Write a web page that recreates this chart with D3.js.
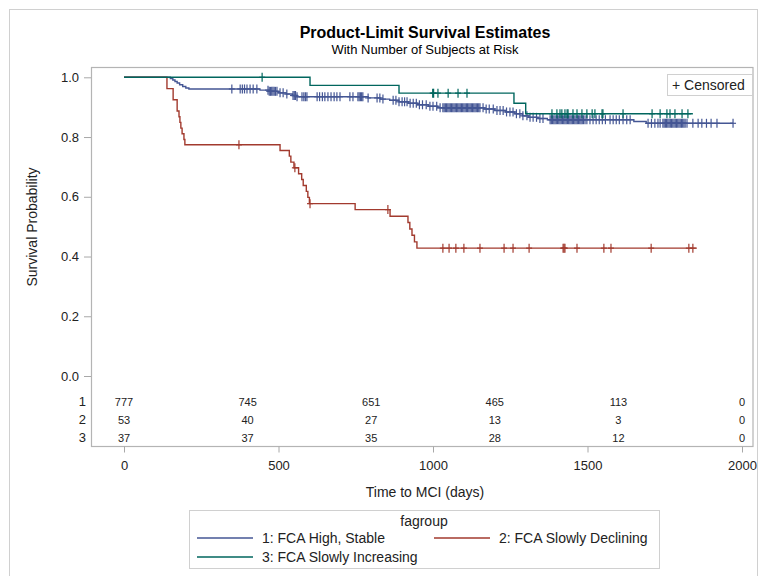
<!DOCTYPE html>
<html>
<head>
<meta charset="utf-8">
<script src="https://cdn.jsdelivr.net/npm/d3@7"></script>
<style>
  html, body { margin: 0; padding: 0; background: #fff; }
  svg text { font-family: "Liberation Sans", Arial, sans-serif; }
</style>
</head>
<body>
<svg id="chart" width="760" height="576"></svg>
<script>
// ---------------- DATA ----------------
const title = "Product-Limit Survival Estimates";
const subtitle = "With Number of Subjects at Risk";
const xLabel = "Time to MCI (days)";
const yLabel = "Survival Probability";
const xTicks = [0, 500, 1000, 1500, 2000];
const yTicks = [0, 0.2, 0.4, 0.6, 0.8, 1.0];
const groupIds = ["1", "2", "3"];
const groupNames = ["1: FCA High, Stable", "2: FCA Slowly Declining", "3: FCA Slowly Increasing"];
const groupColors = ["#445694", "#A23A2E", "#01665E"];

// step points [time, survival]
const g1Steps = [[0,1],[150,0.996],[158,0.991],[165,0.986],[172,0.981],[180,0.975],[190,0.969],[200,0.964],[210,0.961],
  [440,0.957],[470,0.953],[500,0.948],[525,0.944],[545,0.939],[560,0.935],[790,0.931],[830,0.927],[860,0.923],
  [890,0.918],[920,0.913],[950,0.908],[985,0.903],[1015,0.898],[1165,0.894],[1200,0.889],[1235,0.884],[1265,0.878],
  [1290,0.871],[1310,0.866],[1340,0.862],[1370,0.858],[1650,0.852],[1690,0.846]];
const g1End = 1971;
const g2Steps = [[0,1],[139,0.962],[159,0.925],[172,0.887],[178,0.868],[181,0.849],[184,0.830],[188,0.811],[194,0.792],
  [197,0.774],[505,0.755],[535,0.736],[540,0.716],[550,0.697],[565,0.677],[575,0.658],[580,0.638],[590,0.618],
  [595,0.598],[600,0.577],[748,0.557],[861,0.535],[919,0.514],[925,0.492],[932,0.471],[940,0.449],[948,0.428]];
const g2End = 1854;
const g3Steps = [[0,1],[602,0.973],[890,0.947],[1262,0.913],[1300,0.878]];
const g3End = 1841;

// censored times
const g1Censor = [349,376,383,390,398,408,418,430,466,470,474,478,482,486,490,495,505,515,527,547,551,555,560,
  576,582,587,592,625,633,642,650,660,670,680,689,699,731,741,757,761,765,769,773,790,819,828,838,
  871,880,890,900,908,916,926,936,946,956,966,978,990,1000,1012,1023,
  1032,1036,1040,1044,1048,1052,1056,1060,1064,1068,1072,1076,1080,1084,1088,1092,1096,1100,1104,1108,
  1112,1116,1120,1124,1128,1132,1136,1140,1144,1148,1152,
  1162,1172,1182,1195,1207,1217,1227,1238,1249,1259,1270,1281,1291,1304,1314,1324,1335,1346,1356,
  1379,1383,1387,1391,1395,1399,1403,1407,1411,1415,1419,1423,1427,1431,1435,1439,1443,1447,1451,1455,
  1459,1463,1467,1471,1475,1479,1483,1487,1492,
  1498,1508,1518,1528,1538,1548,1558,1573,1583,1593,1603,1615,1627,1638,
  1696,1707,1718,1728,1735,1744,1748,1752,1756,1760,1764,1768,1772,1776,1780,1784,1788,1792,1796,1800,
  1804,1808,1812,1816,1822,1841,1858,1870,1885,1900,1919,1971];
const g2Censor = [372,553,602,854,1032,1052,1074,1100,1152,1230,1259,1311,1421,1424,1427,1466,1553,1576,1706,1828,1841];
const g3Censor = [447,999,1002,1016,1049,1081,1110,1385,1401,1411,1417,1427,1434,1437,1453,1466,1482,1498,
  1515,1524,1547,1550,1615,1709,1735,1757,1767,1783,1806,1825];

// number at risk
const riskTimes = [0, 400, 800, 1200, 1600, 2000];
const atRisk1 = [777, 745, 651, 465, 113, 0];
const atRisk2 = [53, 40, 27, 13, 3, 0];
const atRisk3 = [37, 37, 35, 28, 12, 0];

// ---------------- DRAW ----------------
const svg = d3.select("#chart");
const x = d3.scaleLinear().domain([0, 2000]).range([124, 742]);
const y = d3.scaleLinear().domain([0, 1]).range([376, 77.3]);
const frame = {left: 91, top: 67.5, right: 753, bottom: 446.5};

// outer border
svg.append("rect").attr("x", 9.5).attr("y", 9.5).attr("width", 748).attr("height", 580)
  .attr("fill", "none").attr("stroke", "#d0d0d0").attr("stroke-width", 1);

// titles
svg.append("text").attr("x", 425).attr("y", 38).attr("text-anchor", "middle")
  .attr("font-size", 16).attr("font-weight", "bold").attr("fill", "#000").text(title);
svg.append("text").attr("x", 425).attr("y", 54).attr("text-anchor", "middle")
  .attr("font-size", 13).attr("fill", "#000").text(subtitle);

// frame
svg.append("rect").attr("x", frame.left + 0.5).attr("y", frame.top)
  .attr("width", frame.right - frame.left - 0.5).attr("height", frame.bottom - frame.top)
  .attr("fill", "none").attr("stroke", "#b4b4b4").attr("stroke-width", 1.2);

// y axis
const yAxis = svg.append("g").attr("transform", `translate(${frame.left},0)`)
  .call(d3.axisLeft(y).tickValues(yTicks).tickFormat(d3.format(".1f")).tickSize(7).tickPadding(5).tickSizeOuter(0));
yAxis.select(".domain").remove();
yAxis.selectAll("line").attr("stroke", "#a8a8a8");
yAxis.selectAll("text").attr("font-size", 13).attr("fill", "#222").attr("font-family", "Liberation Sans, Arial, sans-serif");

svg.append("text").attr("transform", "translate(37,227) rotate(-90)").attr("text-anchor", "middle")
  .attr("font-size", 14).attr("fill", "#222").text(yLabel);

// x axis
const xAxis = svg.append("g").attr("transform", `translate(0,${frame.bottom})`)
  .call(d3.axisBottom(x).tickValues(xTicks).tickFormat(d3.format("d")).tickSize(6).tickPadding(8).tickSizeOuter(0));
xAxis.select(".domain").remove();
xAxis.selectAll("line").attr("stroke", "#a8a8a8");
xAxis.selectAll("text").attr("font-size", 13).attr("fill", "#222").attr("font-family", "Liberation Sans, Arial, sans-serif");

svg.append("text").attr("x", 425).attr("y", 497).attr("text-anchor", "middle")
  .attr("font-size", 14).attr("fill", "#222").text(xLabel);

// curves
const groups = [
  {steps: g1Steps, end: g1End, censor: g1Censor, color: groupColors[0]},
  {steps: g2Steps, end: g2End, censor: g2Censor, color: groupColors[1]},
  {steps: g3Steps, end: g3End, censor: g3Censor, color: groupColors[2]}
];
const line = d3.line().x(d => x(d[0])).y(d => y(d[1])).curve(d3.curveStepAfter);
const bis = d3.bisector(d => d[0]).right;
const plot = svg.append("g");
groups.forEach(g => {
  const pts = g.steps.concat([[g.end, g.steps[g.steps.length - 1][1]]]);
  plot.append("path").attr("d", line(pts)).attr("fill", "none")
    .attr("stroke", g.color).attr("stroke-width", 1.4);
  const cg = plot.append("g").attr("stroke", g.color).attr("stroke-width", 1.2);
  g.censor.forEach(t => {
    const s = g.steps[Math.max(0, bis(g.steps, t) - 1)][1];
    const cx = x(t), cy = y(s);
    cg.append("line").attr("x1", cx).attr("x2", cx).attr("y1", cy - 4.5).attr("y2", cy + 4.5);
    cg.append("line").attr("x1", cx - 3).attr("x2", cx + 3).attr("y1", cy).attr("y2", cy);
  });
});

// censored legend
svg.append("rect").attr("x", 667.5).attr("y", 74.5).attr("width", 85).attr("height", 21)
  .attr("fill", "#fff").attr("stroke", "#d0d0d0");
svg.append("text").attr("x", 672).attr("y", 90).attr("font-size", 14).attr("fill", "#222").text("+ Censored");

// at-risk table
const riskRows = [atRisk1, atRisk2, atRisk3];
const rowY = [405.5, 423.5, 441.5];
riskRows.forEach((row, i) => {
  svg.append("text").attr("x", 86).attr("y", rowY[i] + 0.5).attr("text-anchor", "end")
    .attr("font-size", 13).attr("fill", "#222").text(groupIds[i]);
  riskTimes.forEach((t, j) => {
    svg.append("text").attr("x", x(t)).attr("y", rowY[i]).attr("text-anchor", "middle")
      .attr("font-size", 11).attr("fill", "#222").text(row[j]);
  });
});

// group legend
svg.append("rect").attr("x", 189.5).attr("y", 510.5).attr("width", 470).attr("height", 58)
  .attr("fill", "#fff").attr("stroke", "#d0d0d0");
svg.append("text").attr("x", 424).attr("y", 526).attr("text-anchor", "middle")
  .attr("font-size", 14).attr("fill", "#222").text("fagroup");
const legPos = [[197, 538], [434, 538], [197, 557]];
groupNames.forEach((n, i) => {
  const [lx, ly] = legPos[i];
  svg.append("line").attr("x1", lx).attr("x2", lx + 56).attr("y1", ly).attr("y2", ly)
    .attr("stroke", groupColors[i]).attr("stroke-width", 1.4);
  svg.append("text").attr("x", lx + 65).attr("y", ly + 5).attr("font-size", 14).attr("fill", "#222").text(n);
});
</script>
</body>
</html>
